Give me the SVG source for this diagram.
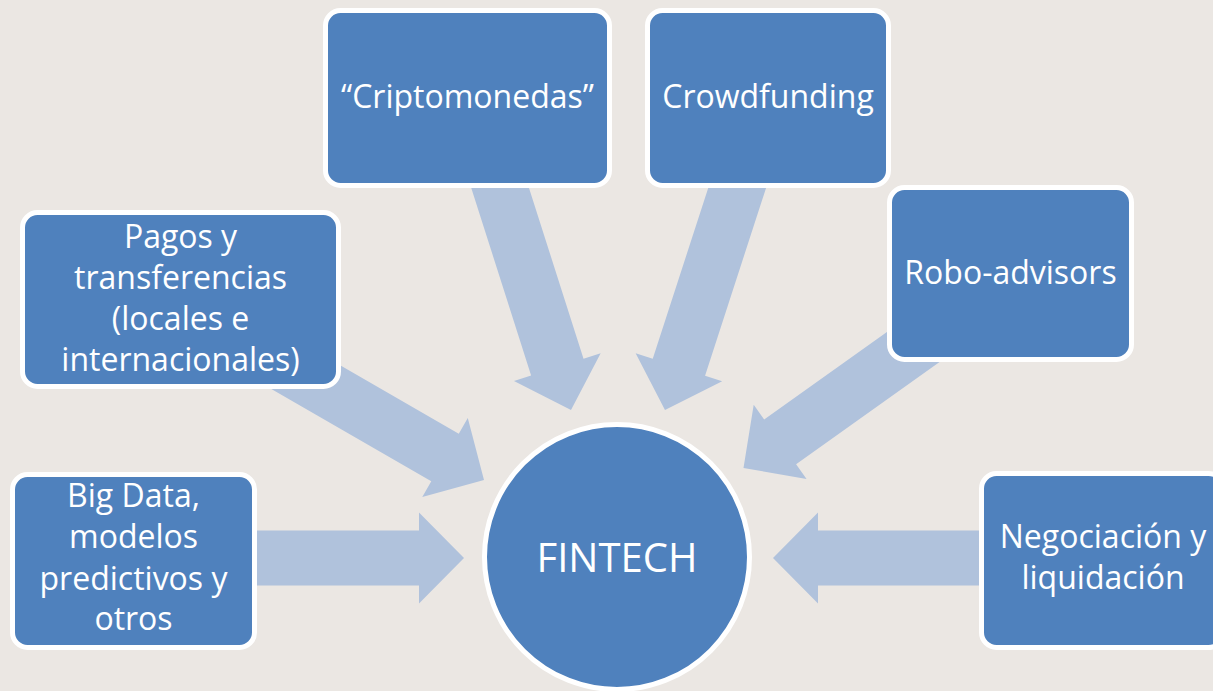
<svg xmlns="http://www.w3.org/2000/svg" xmlns:xlink="http://www.w3.org/1999/xlink" width="1213" height="691" viewBox="0 0 1213 691">
<style>
.node{fill:#4F81BD;stroke:#FFFFFF;stroke-width:5}
.arrow{fill:#B0C2DC}
.lbl{font-family:"Open Sans","Noto Sans","Liberation Sans",sans-serif;font-size:32px;fill:#FFFFFF;text-anchor:middle}
.big{font-size:40px}
</style>
<defs>
<path id="arr" d="M0,0 L-45,-45.5 L-45,-27.5 L-260,-27.5 L-260,27.5 L-45,27.5 L-45,45.5 Z"/>
</defs>
<rect width="1213" height="691" fill="#EBE7E3"/>
<g id="connectors">
<use href="#arr" class="arrow" transform="translate(464,558) rotate(0)"/>
<use href="#arr" class="arrow" transform="translate(484,480) rotate(30)"/>
<use href="#arr" class="arrow" transform="translate(571,410) rotate(72.3)"/>
<use href="#arr" class="arrow" transform="translate(665,410) rotate(108)"/>
<use href="#arr" class="arrow" transform="translate(743.5,468) rotate(144.5)"/>
<use href="#arr" class="arrow" transform="translate(773,558) rotate(180)"/>
</g>
<g id="node-cripto">
<rect class="node" x="325.5" y="10.5" width="284" height="175" rx="15"/>
<text class="lbl" x="467.5" y="108">“Criptomonedas”</text>
</g>
<g id="node-crowd">
<rect class="node" x="647.5" y="10.5" width="241" height="175" rx="15"/>
<text class="lbl" x="768" y="108">Crowdfunding</text>
</g>
<g id="node-robo">
<rect class="node" x="889.5" y="187.5" width="242" height="172" rx="15"/>
<text class="lbl" x="1010.5" y="284">Robo-advisors</text>
</g>
<g id="node-pagos">
<rect class="node" x="22.5" y="212.5" width="316" height="174" rx="15"/>
<text class="lbl" x="180.5" y="248">Pagos y</text>
<text class="lbl" x="180.5" y="289">transferencias</text>
<text class="lbl" x="180.5" y="330">(locales e</text>
<text class="lbl" x="180.5" y="371">internacionales)</text>
</g>
<g id="node-bigdata">
<rect class="node" x="12.5" y="474.5" width="242" height="173" rx="15"/>
<text class="lbl" x="133.5" y="507">Big Data,</text>
<text class="lbl" x="133.5" y="548">modelos</text>
<text class="lbl" x="133.5" y="590">predictivos y</text>
<text class="lbl" x="133.5" y="630">otros</text>
</g>
<g id="node-negociacion">
<rect class="node" x="981.5" y="473.5" width="242" height="174" rx="15"/>
<text class="lbl" x="1103" y="548">Negociación y</text>
<text class="lbl" x="1103" y="589">liquidación</text>
</g>
<g id="node-fintech">
<circle class="node" cx="617" cy="557" r="132.5"/>
<text class="lbl big" x="617" y="572">FINTECH</text>
</g>
</svg>
